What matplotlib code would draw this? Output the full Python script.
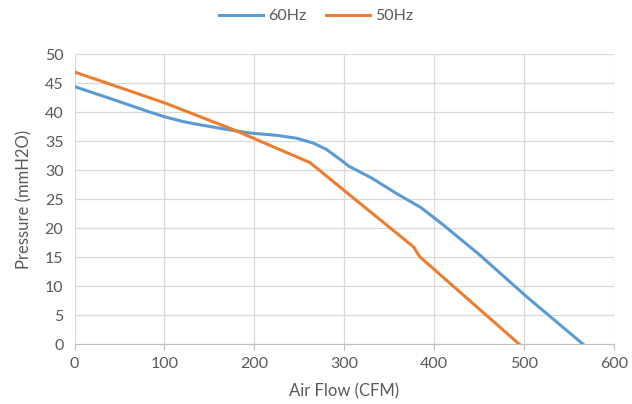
import matplotlib
matplotlib.use("Agg")
import matplotlib.pyplot as plt

flow_60 = [0, 50, 80, 100, 120, 140, 170, 195, 225, 247, 265, 280, 295, 305, 330, 358, 385, 410, 450, 503, 566]
pres_60 = [44.4, 41.8, 40.2, 39.2, 38.4, 37.8, 37.0, 36.4, 36.0, 35.5, 34.7, 33.6, 31.9, 30.7, 28.7, 26.0, 23.6, 20.6, 15.5, 8.2, 0]
flow_50 = [0, 100, 178, 262, 300, 377, 384, 495]
pres_50 = [46.9, 41.6, 36.9, 31.3, 26.5, 16.8, 15.1, 0]
xticks = [0, 100, 200, 300, 400, 500, 600]
yticks = [0, 5, 10, 15, 20, 25, 30, 35, 40, 45, 50]

plt.rcParams['font.family'] = ['Lato', 'DejaVu Sans']
fig = plt.figure(figsize=(6.32, 4.04), dpi=100)
ax = fig.add_axes([0.1179, 0.1473, 0.8536, 0.719])

l1, = ax.plot(flow_60, pres_60, color='#5b9bd5', lw=2.2, label='60Hz', solid_joinstyle='round')
l2, = ax.plot(flow_50, pres_50, color='#ed7d31', lw=2.2, label='50Hz', solid_joinstyle='round')

ax.set_xlim(0, 600)
ax.set_ylim(0, 50)
ax.set_xticks(xticks)
ax.set_yticks(yticks)
ax.grid(True, color='#d9d9d9', lw=0.9)
ax.set_axisbelow(True)
for s in ['top', 'right', 'left']:
    ax.spines[s].set_visible(False)
ax.spines['bottom'].set_color('#bfbfbf')
ax.tick_params(axis='y', length=0, labelsize=11.5, labelcolor='#595959', pad=8)
ax.tick_params(axis='x', length=4, color='#bfbfbf', labelsize=11.5, labelcolor='#595959', pad=5)
ax.set_xlabel('Air Flow (CFM)', fontsize=12, color='#595959', labelpad=9)
ax.set_ylabel('Pressure (mmH2O)', fontsize=12, color='#595959', labelpad=9)

fig.legend(handles=[l1, l2], loc='center', bbox_to_anchor=(0.5, 0.96), ncol=2,
           frameon=False, fontsize=11.5, handlelength=2.8, columnspacing=1.2,
           handletextpad=0.3, labelcolor='#595959')

fig.savefig('out.png', dpi=100)
